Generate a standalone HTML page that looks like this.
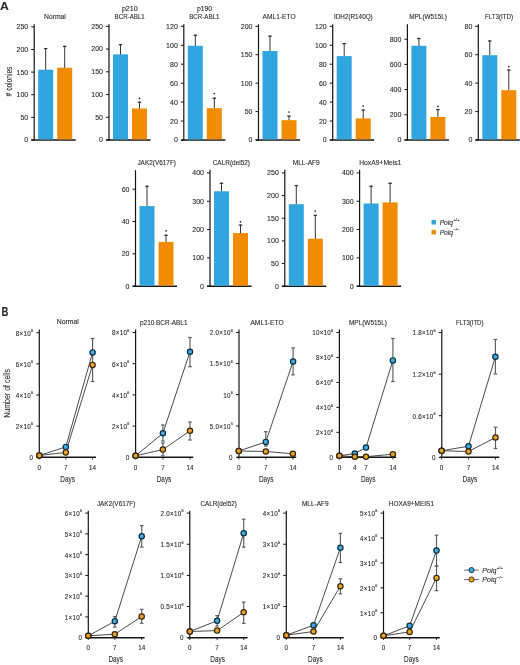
<!DOCTYPE html>
<html><head><meta charset="utf-8"><title>Figure</title>
<style>
html,body{margin:0;padding:0;background:#fff;}
body{width:520px;height:665px;overflow:hidden;}
svg{display:block;font-family:"Liberation Sans",sans-serif;will-change:transform;}
text{stroke:#2b2b2b;stroke-width:0.1px;}
</style></head>
<body>
<svg width="520" height="665" viewBox="0 0 520 665" fill="#2b2b2b">
<rect width="520" height="665" fill="#ffffff"/>
<text x="44" y="18.54" font-size="6.8" textLength="21.8" lengthAdjust="spacingAndGlyphs">Normal</text>
<line x1="34.2" y1="24.3" x2="34.2" y2="140.6" stroke="#161616" stroke-width="1.2"/>
<line x1="31.4" y1="140" x2="75.7" y2="140" stroke="#161616" stroke-width="1.45"/>
<line x1="31.2" y1="140" x2="34.2" y2="140" stroke="#161616" stroke-width="1"/>
<text x="28.2" y="142.45" font-size="7" text-anchor="end">0</text>
<line x1="31.2" y1="117.38" x2="34.2" y2="117.38" stroke="#161616" stroke-width="1"/>
<text x="28.2" y="119.83" font-size="7" text-anchor="end">50</text>
<line x1="31.2" y1="94.76" x2="34.2" y2="94.76" stroke="#161616" stroke-width="1"/>
<text x="28.2" y="97.21" font-size="7" text-anchor="end">100</text>
<line x1="31.2" y1="72.14" x2="34.2" y2="72.14" stroke="#161616" stroke-width="1"/>
<text x="28.2" y="74.59" font-size="7" text-anchor="end">150</text>
<line x1="31.2" y1="49.52" x2="34.2" y2="49.52" stroke="#161616" stroke-width="1"/>
<text x="28.2" y="51.97" font-size="7" text-anchor="end">200</text>
<line x1="31.2" y1="26.9" x2="34.2" y2="26.9" stroke="#161616" stroke-width="1"/>
<text x="28.2" y="29.35" font-size="7" text-anchor="end">250</text>
<line x1="45.7" y1="70.2" x2="45.7" y2="48" stroke="#363636" stroke-width="1"/>
<line x1="44" y1="48.6" x2="47.4" y2="48.6" stroke="#363636" stroke-width="1.3"/>
<line x1="64.7" y1="68.2" x2="64.7" y2="45.8" stroke="#363636" stroke-width="1"/>
<line x1="63" y1="46.4" x2="66.4" y2="46.4" stroke="#363636" stroke-width="1.3"/>
<rect x="38.2" y="69.7" width="15" height="69.7" fill="#31A5DF"/>
<rect x="57.2" y="67.7" width="15" height="71.7" fill="#F18C00"/>
<text x="121.9" y="10.74" font-size="6.8" textLength="15.7" lengthAdjust="spacingAndGlyphs">p210</text>
<text x="114.6" y="18.54" font-size="6.8" textLength="30.2" lengthAdjust="spacingAndGlyphs">BCR-ABL1</text>
<line x1="109" y1="24.3" x2="109" y2="140.6" stroke="#161616" stroke-width="1.2"/>
<line x1="106.2" y1="140" x2="150.5" y2="140" stroke="#161616" stroke-width="1.45"/>
<line x1="106" y1="140" x2="109" y2="140" stroke="#161616" stroke-width="1"/>
<text x="103" y="142.45" font-size="7" text-anchor="end">0</text>
<line x1="106" y1="117.26" x2="109" y2="117.26" stroke="#161616" stroke-width="1"/>
<text x="103" y="119.71" font-size="7" text-anchor="end">50</text>
<line x1="106" y1="94.52" x2="109" y2="94.52" stroke="#161616" stroke-width="1"/>
<text x="103" y="96.97" font-size="7" text-anchor="end">100</text>
<line x1="106" y1="71.78" x2="109" y2="71.78" stroke="#161616" stroke-width="1"/>
<text x="103" y="74.23" font-size="7" text-anchor="end">150</text>
<line x1="106" y1="49.04" x2="109" y2="49.04" stroke="#161616" stroke-width="1"/>
<text x="103" y="51.49" font-size="7" text-anchor="end">200</text>
<line x1="106" y1="26.3" x2="109" y2="26.3" stroke="#161616" stroke-width="1"/>
<text x="103" y="28.75" font-size="7" text-anchor="end">250</text>
<line x1="120.5" y1="54.9" x2="120.5" y2="44.1" stroke="#363636" stroke-width="1"/>
<line x1="118.8" y1="44.7" x2="122.2" y2="44.7" stroke="#363636" stroke-width="1.3"/>
<line x1="139.5" y1="109" x2="139.5" y2="101.7" stroke="#363636" stroke-width="1"/>
<line x1="137.8" y1="102.3" x2="141.2" y2="102.3" stroke="#363636" stroke-width="1.3"/>
<rect x="113" y="54.4" width="15" height="85" fill="#31A5DF"/>
<rect x="132" y="108.5" width="15" height="30.9" fill="#F18C00"/>
<circle cx="139.5" cy="98.4" r="0.85" fill="#222"/>
<text x="196.9" y="10.74" font-size="6.8" textLength="15.2" lengthAdjust="spacingAndGlyphs">p190</text>
<text x="189.2" y="18.54" font-size="6.8" textLength="30.3" lengthAdjust="spacingAndGlyphs">BCR-ABL1</text>
<line x1="183.8" y1="24.3" x2="183.8" y2="140.6" stroke="#161616" stroke-width="1.2"/>
<line x1="181" y1="140" x2="225.3" y2="140" stroke="#161616" stroke-width="1.45"/>
<line x1="180.8" y1="140" x2="183.8" y2="140" stroke="#161616" stroke-width="1"/>
<text x="177.8" y="142.45" font-size="7" text-anchor="end">0</text>
<line x1="180.8" y1="121.05" x2="183.8" y2="121.05" stroke="#161616" stroke-width="1"/>
<text x="177.8" y="123.5" font-size="7" text-anchor="end">20</text>
<line x1="180.8" y1="102.1" x2="183.8" y2="102.1" stroke="#161616" stroke-width="1"/>
<text x="177.8" y="104.55" font-size="7" text-anchor="end">40</text>
<line x1="180.8" y1="83.15" x2="183.8" y2="83.15" stroke="#161616" stroke-width="1"/>
<text x="177.8" y="85.6" font-size="7" text-anchor="end">60</text>
<line x1="180.8" y1="64.2" x2="183.8" y2="64.2" stroke="#161616" stroke-width="1"/>
<text x="177.8" y="66.65" font-size="7" text-anchor="end">80</text>
<line x1="180.8" y1="45.25" x2="183.8" y2="45.25" stroke="#161616" stroke-width="1"/>
<text x="177.8" y="47.7" font-size="7" text-anchor="end">100</text>
<line x1="180.8" y1="26.3" x2="183.8" y2="26.3" stroke="#161616" stroke-width="1"/>
<text x="177.8" y="28.75" font-size="7" text-anchor="end">120</text>
<line x1="195.3" y1="46.3" x2="195.3" y2="34.7" stroke="#363636" stroke-width="1"/>
<line x1="193.6" y1="35.3" x2="197" y2="35.3" stroke="#363636" stroke-width="1.3"/>
<line x1="214.3" y1="108.7" x2="214.3" y2="97.6" stroke="#363636" stroke-width="1"/>
<line x1="212.6" y1="98.2" x2="216" y2="98.2" stroke="#363636" stroke-width="1.3"/>
<rect x="187.8" y="45.8" width="15" height="93.6" fill="#31A5DF"/>
<rect x="206.8" y="108.2" width="15" height="31.2" fill="#F18C00"/>
<circle cx="214.3" cy="93.5" r="0.85" fill="#222"/>
<text x="262.6" y="18.54" font-size="6.8" textLength="33" lengthAdjust="spacingAndGlyphs">AML1-ETO</text>
<line x1="258.5" y1="24.3" x2="258.5" y2="140.6" stroke="#161616" stroke-width="1.2"/>
<line x1="255.7" y1="140" x2="300" y2="140" stroke="#161616" stroke-width="1.45"/>
<line x1="255.5" y1="140" x2="258.5" y2="140" stroke="#161616" stroke-width="1"/>
<text x="252.5" y="142.45" font-size="7" text-anchor="end">0</text>
<line x1="255.5" y1="111.58" x2="258.5" y2="111.58" stroke="#161616" stroke-width="1"/>
<text x="252.5" y="114.03" font-size="7" text-anchor="end">50</text>
<line x1="255.5" y1="83.15" x2="258.5" y2="83.15" stroke="#161616" stroke-width="1"/>
<text x="252.5" y="85.6" font-size="7" text-anchor="end">100</text>
<line x1="255.5" y1="54.72" x2="258.5" y2="54.72" stroke="#161616" stroke-width="1"/>
<text x="252.5" y="57.17" font-size="7" text-anchor="end">150</text>
<line x1="255.5" y1="26.3" x2="258.5" y2="26.3" stroke="#161616" stroke-width="1"/>
<text x="252.5" y="28.75" font-size="7" text-anchor="end">200</text>
<line x1="270" y1="51.5" x2="270" y2="35.6" stroke="#363636" stroke-width="1"/>
<line x1="268.3" y1="36.2" x2="271.7" y2="36.2" stroke="#363636" stroke-width="1.3"/>
<line x1="289" y1="120.7" x2="289" y2="115.6" stroke="#363636" stroke-width="1"/>
<line x1="287.3" y1="116.2" x2="290.7" y2="116.2" stroke="#363636" stroke-width="1.3"/>
<rect x="262.5" y="51" width="15" height="88.4" fill="#31A5DF"/>
<rect x="281.5" y="120.2" width="15" height="19.2" fill="#F18C00"/>
<circle cx="289" cy="112" r="0.85" fill="#222"/>
<text x="334" y="18.54" font-size="6.8" textLength="38.7" lengthAdjust="spacingAndGlyphs">IDH2(R140Q)</text>
<line x1="332.7" y1="24.3" x2="332.7" y2="140.6" stroke="#161616" stroke-width="1.2"/>
<line x1="329.9" y1="140" x2="374.2" y2="140" stroke="#161616" stroke-width="1.45"/>
<line x1="329.7" y1="140" x2="332.7" y2="140" stroke="#161616" stroke-width="1"/>
<text x="326.7" y="142.45" font-size="7" text-anchor="end">0</text>
<line x1="329.7" y1="121.05" x2="332.7" y2="121.05" stroke="#161616" stroke-width="1"/>
<text x="326.7" y="123.5" font-size="7" text-anchor="end">20</text>
<line x1="329.7" y1="102.1" x2="332.7" y2="102.1" stroke="#161616" stroke-width="1"/>
<text x="326.7" y="104.55" font-size="7" text-anchor="end">40</text>
<line x1="329.7" y1="83.15" x2="332.7" y2="83.15" stroke="#161616" stroke-width="1"/>
<text x="326.7" y="85.6" font-size="7" text-anchor="end">60</text>
<line x1="329.7" y1="64.2" x2="332.7" y2="64.2" stroke="#161616" stroke-width="1"/>
<text x="326.7" y="66.65" font-size="7" text-anchor="end">80</text>
<line x1="329.7" y1="45.25" x2="332.7" y2="45.25" stroke="#161616" stroke-width="1"/>
<text x="326.7" y="47.7" font-size="7" text-anchor="end">100</text>
<line x1="329.7" y1="26.3" x2="332.7" y2="26.3" stroke="#161616" stroke-width="1"/>
<text x="326.7" y="28.75" font-size="7" text-anchor="end">120</text>
<line x1="344.2" y1="56.6" x2="344.2" y2="43" stroke="#363636" stroke-width="1"/>
<line x1="342.5" y1="43.6" x2="345.9" y2="43.6" stroke="#363636" stroke-width="1.3"/>
<line x1="363.2" y1="118.9" x2="363.2" y2="109.4" stroke="#363636" stroke-width="1"/>
<line x1="361.5" y1="110" x2="364.9" y2="110" stroke="#363636" stroke-width="1.3"/>
<rect x="336.7" y="56.1" width="15" height="83.3" fill="#31A5DF"/>
<rect x="355.7" y="118.4" width="15" height="21" fill="#F18C00"/>
<circle cx="363.2" cy="105.8" r="0.85" fill="#222"/>
<text x="409.3" y="18.54" font-size="6.8" textLength="37.6" lengthAdjust="spacingAndGlyphs">MPL(W515L)</text>
<line x1="407.4" y1="24.3" x2="407.4" y2="140.6" stroke="#161616" stroke-width="1.2"/>
<line x1="404.6" y1="140" x2="448.9" y2="140" stroke="#161616" stroke-width="1.45"/>
<line x1="404.4" y1="140" x2="407.4" y2="140" stroke="#161616" stroke-width="1"/>
<text x="401.4" y="142.45" font-size="7" text-anchor="end">0</text>
<line x1="404.4" y1="114.8" x2="407.4" y2="114.8" stroke="#161616" stroke-width="1"/>
<text x="401.4" y="117.25" font-size="7" text-anchor="end">200</text>
<line x1="404.4" y1="89.6" x2="407.4" y2="89.6" stroke="#161616" stroke-width="1"/>
<text x="401.4" y="92.05" font-size="7" text-anchor="end">400</text>
<line x1="404.4" y1="64.4" x2="407.4" y2="64.4" stroke="#161616" stroke-width="1"/>
<text x="401.4" y="66.85" font-size="7" text-anchor="end">600</text>
<line x1="404.4" y1="39.2" x2="407.4" y2="39.2" stroke="#161616" stroke-width="1"/>
<text x="401.4" y="41.65" font-size="7" text-anchor="end">800</text>
<line x1="418.9" y1="46.3" x2="418.9" y2="37.9" stroke="#363636" stroke-width="1"/>
<line x1="417.2" y1="38.5" x2="420.6" y2="38.5" stroke="#363636" stroke-width="1.3"/>
<line x1="437.9" y1="117.4" x2="437.9" y2="109" stroke="#363636" stroke-width="1"/>
<line x1="436.2" y1="109.6" x2="439.6" y2="109.6" stroke="#363636" stroke-width="1.3"/>
<rect x="411.4" y="45.8" width="15" height="93.6" fill="#31A5DF"/>
<rect x="430.4" y="116.9" width="15" height="22.5" fill="#F18C00"/>
<circle cx="437.9" cy="106.3" r="0.85" fill="#222"/>
<text x="484.9" y="18.54" font-size="6.8" textLength="28.2" lengthAdjust="spacingAndGlyphs">FLT3(ITD)</text>
<line x1="478.3" y1="24.3" x2="478.3" y2="140.6" stroke="#161616" stroke-width="1.2"/>
<line x1="475.5" y1="140" x2="519.8" y2="140" stroke="#161616" stroke-width="1.45"/>
<line x1="475.3" y1="140" x2="478.3" y2="140" stroke="#161616" stroke-width="1"/>
<text x="472.3" y="142.45" font-size="7" text-anchor="end">0</text>
<line x1="475.3" y1="111.57" x2="478.3" y2="111.57" stroke="#161616" stroke-width="1"/>
<text x="472.3" y="114.02" font-size="7" text-anchor="end">20</text>
<line x1="475.3" y1="83.15" x2="478.3" y2="83.15" stroke="#161616" stroke-width="1"/>
<text x="472.3" y="85.6" font-size="7" text-anchor="end">40</text>
<line x1="475.3" y1="54.72" x2="478.3" y2="54.72" stroke="#161616" stroke-width="1"/>
<text x="472.3" y="57.17" font-size="7" text-anchor="end">60</text>
<line x1="475.3" y1="26.3" x2="478.3" y2="26.3" stroke="#161616" stroke-width="1"/>
<text x="472.3" y="28.75" font-size="7" text-anchor="end">80</text>
<line x1="489.8" y1="55.7" x2="489.8" y2="40.4" stroke="#363636" stroke-width="1"/>
<line x1="488.1" y1="41" x2="491.5" y2="41" stroke="#363636" stroke-width="1.3"/>
<line x1="508.8" y1="90.7" x2="508.8" y2="69.5" stroke="#363636" stroke-width="1"/>
<line x1="507.1" y1="70.1" x2="510.5" y2="70.1" stroke="#363636" stroke-width="1.3"/>
<rect x="482.3" y="55.2" width="15" height="84.2" fill="#31A5DF"/>
<rect x="501.3" y="90.2" width="15" height="49.2" fill="#F18C00"/>
<circle cx="508.8" cy="66.5" r="0.85" fill="#222"/>
<text transform="translate(11.7,81.5) rotate(-90)" font-size="9" text-anchor="middle" textLength="29.8" lengthAdjust="spacingAndGlyphs">#&#160;colonies</text>
<text x="137.4" y="165.44" font-size="6.8" textLength="38.6" lengthAdjust="spacingAndGlyphs">JAK2(V617F)</text>
<line x1="135.5" y1="170.2" x2="135.5" y2="286.8" stroke="#161616" stroke-width="1.2"/>
<line x1="132.7" y1="286.2" x2="177" y2="286.2" stroke="#161616" stroke-width="1.45"/>
<line x1="132.5" y1="286.2" x2="135.5" y2="286.2" stroke="#161616" stroke-width="1"/>
<text x="129.5" y="288.65" font-size="7" text-anchor="end">0</text>
<line x1="132.5" y1="253.87" x2="135.5" y2="253.87" stroke="#161616" stroke-width="1"/>
<text x="129.5" y="256.32" font-size="7" text-anchor="end">20</text>
<line x1="132.5" y1="221.53" x2="135.5" y2="221.53" stroke="#161616" stroke-width="1"/>
<text x="129.5" y="223.98" font-size="7" text-anchor="end">40</text>
<line x1="132.5" y1="189.2" x2="135.5" y2="189.2" stroke="#161616" stroke-width="1"/>
<text x="129.5" y="191.65" font-size="7" text-anchor="end">60</text>
<line x1="147" y1="206.6" x2="147" y2="185.7" stroke="#363636" stroke-width="1"/>
<line x1="145.3" y1="186.3" x2="148.7" y2="186.3" stroke="#363636" stroke-width="1.3"/>
<line x1="166" y1="242.4" x2="166" y2="234.7" stroke="#363636" stroke-width="1"/>
<line x1="164.3" y1="235.3" x2="167.7" y2="235.3" stroke="#363636" stroke-width="1.3"/>
<rect x="139.5" y="206.1" width="15" height="79.5" fill="#31A5DF"/>
<rect x="158.5" y="241.9" width="15" height="43.7" fill="#F18C00"/>
<circle cx="166" cy="230.8" r="0.85" fill="#222"/>
<text x="212.7" y="165.44" font-size="6.8" textLength="37.3" lengthAdjust="spacingAndGlyphs">CALR(del52)</text>
<line x1="210" y1="169.8" x2="210" y2="286.8" stroke="#161616" stroke-width="1.2"/>
<line x1="207.2" y1="286.2" x2="251.5" y2="286.2" stroke="#161616" stroke-width="1.45"/>
<line x1="207" y1="286.2" x2="210" y2="286.2" stroke="#161616" stroke-width="1"/>
<text x="204" y="288.65" font-size="7" text-anchor="end">0</text>
<line x1="207" y1="257.88" x2="210" y2="257.88" stroke="#161616" stroke-width="1"/>
<text x="204" y="260.32" font-size="7" text-anchor="end">100</text>
<line x1="207" y1="229.55" x2="210" y2="229.55" stroke="#161616" stroke-width="1"/>
<text x="204" y="232" font-size="7" text-anchor="end">200</text>
<line x1="207" y1="201.23" x2="210" y2="201.23" stroke="#161616" stroke-width="1"/>
<text x="204" y="203.68" font-size="7" text-anchor="end">300</text>
<line x1="207" y1="172.9" x2="210" y2="172.9" stroke="#161616" stroke-width="1"/>
<text x="204" y="175.35" font-size="7" text-anchor="end">400</text>
<line x1="221.5" y1="191.8" x2="221.5" y2="182.7" stroke="#363636" stroke-width="1"/>
<line x1="219.8" y1="183.3" x2="223.2" y2="183.3" stroke="#363636" stroke-width="1.3"/>
<line x1="240.5" y1="233.6" x2="240.5" y2="224.5" stroke="#363636" stroke-width="1"/>
<line x1="238.8" y1="225.1" x2="242.2" y2="225.1" stroke="#363636" stroke-width="1.3"/>
<rect x="214" y="191.3" width="15" height="94.3" fill="#31A5DF"/>
<rect x="233" y="233.1" width="15" height="52.5" fill="#F18C00"/>
<circle cx="240.5" cy="221.8" r="0.85" fill="#222"/>
<text x="292.7" y="165.44" font-size="6.8" textLength="27.1" lengthAdjust="spacingAndGlyphs">MLL-AF9</text>
<line x1="284.8" y1="169.8" x2="284.8" y2="286.8" stroke="#161616" stroke-width="1.2"/>
<line x1="282" y1="286.2" x2="326.3" y2="286.2" stroke="#161616" stroke-width="1.45"/>
<line x1="281.8" y1="286.2" x2="284.8" y2="286.2" stroke="#161616" stroke-width="1"/>
<text x="278.8" y="288.65" font-size="7" text-anchor="end">0</text>
<line x1="281.8" y1="263.54" x2="284.8" y2="263.54" stroke="#161616" stroke-width="1"/>
<text x="278.8" y="265.99" font-size="7" text-anchor="end">50</text>
<line x1="281.8" y1="240.88" x2="284.8" y2="240.88" stroke="#161616" stroke-width="1"/>
<text x="278.8" y="243.33" font-size="7" text-anchor="end">100</text>
<line x1="281.8" y1="218.22" x2="284.8" y2="218.22" stroke="#161616" stroke-width="1"/>
<text x="278.8" y="220.67" font-size="7" text-anchor="end">150</text>
<line x1="281.8" y1="195.56" x2="284.8" y2="195.56" stroke="#161616" stroke-width="1"/>
<text x="278.8" y="198.01" font-size="7" text-anchor="end">200</text>
<line x1="281.8" y1="172.9" x2="284.8" y2="172.9" stroke="#161616" stroke-width="1"/>
<text x="278.8" y="175.35" font-size="7" text-anchor="end">250</text>
<line x1="296.3" y1="204.7" x2="296.3" y2="185" stroke="#363636" stroke-width="1"/>
<line x1="294.6" y1="185.6" x2="298" y2="185.6" stroke="#363636" stroke-width="1.3"/>
<line x1="315.3" y1="239.2" x2="315.3" y2="214.8" stroke="#363636" stroke-width="1"/>
<line x1="313.6" y1="215.4" x2="317" y2="215.4" stroke="#363636" stroke-width="1.3"/>
<rect x="288.8" y="204.2" width="15" height="81.4" fill="#31A5DF"/>
<rect x="307.8" y="238.7" width="15" height="46.9" fill="#F18C00"/>
<circle cx="315.3" cy="211" r="0.85" fill="#222"/>
<text x="359.2" y="165.44" font-size="6.8" textLength="42.2" lengthAdjust="spacingAndGlyphs">HoxA9+Meis1</text>
<line x1="359.6" y1="169.8" x2="359.6" y2="286.8" stroke="#161616" stroke-width="1.2"/>
<line x1="356.8" y1="286.2" x2="401.1" y2="286.2" stroke="#161616" stroke-width="1.45"/>
<line x1="356.6" y1="286.2" x2="359.6" y2="286.2" stroke="#161616" stroke-width="1"/>
<text x="353.6" y="288.65" font-size="7" text-anchor="end">0</text>
<line x1="356.6" y1="257.88" x2="359.6" y2="257.88" stroke="#161616" stroke-width="1"/>
<text x="353.6" y="260.32" font-size="7" text-anchor="end">100</text>
<line x1="356.6" y1="229.55" x2="359.6" y2="229.55" stroke="#161616" stroke-width="1"/>
<text x="353.6" y="232" font-size="7" text-anchor="end">200</text>
<line x1="356.6" y1="201.23" x2="359.6" y2="201.23" stroke="#161616" stroke-width="1"/>
<text x="353.6" y="203.68" font-size="7" text-anchor="end">300</text>
<line x1="356.6" y1="172.9" x2="359.6" y2="172.9" stroke="#161616" stroke-width="1"/>
<text x="353.6" y="175.35" font-size="7" text-anchor="end">400</text>
<line x1="371.1" y1="204" x2="371.1" y2="185.7" stroke="#363636" stroke-width="1"/>
<line x1="369.4" y1="186.3" x2="372.8" y2="186.3" stroke="#363636" stroke-width="1.3"/>
<line x1="390.1" y1="202.9" x2="390.1" y2="182.7" stroke="#363636" stroke-width="1"/>
<line x1="388.4" y1="183.3" x2="391.8" y2="183.3" stroke="#363636" stroke-width="1.3"/>
<rect x="363.6" y="203.5" width="15" height="82.1" fill="#31A5DF"/>
<rect x="382.6" y="202.4" width="15" height="83.2" fill="#F18C00"/>
<rect x="431.5" y="219.9" width="4.4" height="4.6" fill="#31A5DF"/>
<rect x="431.5" y="229.9" width="4.4" height="4.6" fill="#F18C00"/>
<text x="0" y="9.6" font-size="11.5" textLength="8.8" lengthAdjust="spacingAndGlyphs" font-weight="bold">A</text>
<text x="1.4" y="315.5" font-size="12.4" textLength="6.9" lengthAdjust="spacingAndGlyphs" font-weight="bold">B</text>
<text x="56.7" y="324.44" font-size="6.8" textLength="22.1" lengthAdjust="spacingAndGlyphs">Normal</text>
<line x1="39.3" y1="329.5" x2="39.3" y2="457.9" stroke="#161616" stroke-width="1.2"/>
<line x1="37.3" y1="457.3" x2="96" y2="457.3" stroke="#161616" stroke-width="1.4"/>
<line x1="36.3" y1="457.3" x2="39.3" y2="457.3" stroke="#161616" stroke-width="1"/>
<text x="32.9" y="460" font-size="6.3" text-anchor="end">0</text>
<line x1="36.3" y1="426.15" x2="39.3" y2="426.15" stroke="#161616" stroke-width="1"/>
<text x="33.1" y="429.05" font-size="6.3" text-anchor="end" letter-spacing="0.25">2×10<tspan font-size="3.8" dy="-3.6" letter-spacing="0">6</tspan></text>
<line x1="36.3" y1="395" x2="39.3" y2="395" stroke="#161616" stroke-width="1"/>
<text x="33.1" y="397.9" font-size="6.3" text-anchor="end" letter-spacing="0.25">4×10<tspan font-size="3.8" dy="-3.6" letter-spacing="0">6</tspan></text>
<line x1="36.3" y1="363.85" x2="39.3" y2="363.85" stroke="#161616" stroke-width="1"/>
<text x="33.1" y="366.75" font-size="6.3" text-anchor="end" letter-spacing="0.25">6×10<tspan font-size="3.8" dy="-3.6" letter-spacing="0">6</tspan></text>
<line x1="36.3" y1="332.7" x2="39.3" y2="332.7" stroke="#161616" stroke-width="1"/>
<text x="33.1" y="335.6" font-size="6.3" text-anchor="end" letter-spacing="0.25">8×10<tspan font-size="3.8" dy="-3.6" letter-spacing="0">6</tspan></text>
<line x1="39.3" y1="457.3" x2="39.3" y2="459.5" stroke="#161616" stroke-width="0.9"/>
<text x="39.3" y="469.5" font-size="6.3" text-anchor="middle">0</text>
<line x1="65.8" y1="457.3" x2="65.8" y2="459.5" stroke="#161616" stroke-width="0.9"/>
<text x="65.8" y="469.5" font-size="6.3" text-anchor="middle">7</text>
<line x1="92.6" y1="457.3" x2="92.6" y2="459.5" stroke="#161616" stroke-width="0.9"/>
<text x="92.6" y="469.5" font-size="6.3" text-anchor="middle">14</text>
<text x="60.3" y="481.7" font-size="9.9" textLength="14.6" lengthAdjust="spacingAndGlyphs">Days</text>
<line x1="92.6" y1="338.5" x2="92.6" y2="381.5" stroke="#5c5c66" stroke-width="1.15"/>
<line x1="90.8" y1="338.5" x2="94.4" y2="338.5" stroke="#5c5c66" stroke-width="1.2"/>
<line x1="90.8" y1="381.5" x2="94.4" y2="381.5" stroke="#5c5c66" stroke-width="1.2"/>
<polyline points="39.3,455.5 65.8,446.9 92.6,352.4" fill="none" stroke="#2a2a2a" stroke-width="0.85"/>
<polyline points="39.3,455.5 65.8,452.4 92.6,364.9" fill="none" stroke="#2a2a2a" stroke-width="0.85"/>
<circle cx="39.3" cy="455.5" r="2.65" fill="#42ACDE" stroke="#0c2c44" stroke-width="1.2"/>
<circle cx="65.8" cy="446.9" r="2.65" fill="#42ACDE" stroke="#0c2c44" stroke-width="1.2"/>
<circle cx="92.6" cy="352.4" r="2.65" fill="#42ACDE" stroke="#0c2c44" stroke-width="1.2"/>
<circle cx="39.3" cy="455.5" r="2.65" fill="#E8A22C" stroke="#3a2606" stroke-width="1.2"/>
<circle cx="65.8" cy="452.4" r="2.65" fill="#E8A22C" stroke="#3a2606" stroke-width="1.2"/>
<circle cx="92.6" cy="364.9" r="2.65" fill="#E8A22C" stroke="#3a2606" stroke-width="1.2"/>
<text transform="translate(10.4,393.4) rotate(-90)" font-size="9" text-anchor="middle" textLength="48.7" lengthAdjust="spacingAndGlyphs">Number of cells</text>
<text x="140" y="324.64" font-size="6.8" textLength="47.5" lengthAdjust="spacingAndGlyphs">p210 BCR-ABL1</text>
<line x1="135.6" y1="329.5" x2="135.6" y2="457.9" stroke="#161616" stroke-width="1.2"/>
<line x1="133.6" y1="457.3" x2="193.3" y2="457.3" stroke="#161616" stroke-width="1.4"/>
<line x1="132.6" y1="457.3" x2="135.6" y2="457.3" stroke="#161616" stroke-width="1"/>
<text x="129.2" y="460" font-size="6.3" text-anchor="end">0</text>
<line x1="132.6" y1="426.1" x2="135.6" y2="426.1" stroke="#161616" stroke-width="1"/>
<text x="129.4" y="429" font-size="6.3" text-anchor="end" letter-spacing="0.25">2×10<tspan font-size="3.8" dy="-3.6" letter-spacing="0">6</tspan></text>
<line x1="132.6" y1="394.9" x2="135.6" y2="394.9" stroke="#161616" stroke-width="1"/>
<text x="129.4" y="397.8" font-size="6.3" text-anchor="end" letter-spacing="0.25">4×10<tspan font-size="3.8" dy="-3.6" letter-spacing="0">6</tspan></text>
<line x1="132.6" y1="363.7" x2="135.6" y2="363.7" stroke="#161616" stroke-width="1"/>
<text x="129.4" y="366.6" font-size="6.3" text-anchor="end" letter-spacing="0.25">6×10<tspan font-size="3.8" dy="-3.6" letter-spacing="0">6</tspan></text>
<line x1="132.6" y1="332.5" x2="135.6" y2="332.5" stroke="#161616" stroke-width="1"/>
<text x="129.4" y="335.4" font-size="6.3" text-anchor="end" letter-spacing="0.25">8×10<tspan font-size="3.8" dy="-3.6" letter-spacing="0">6</tspan></text>
<line x1="135.6" y1="457.3" x2="135.6" y2="459.5" stroke="#161616" stroke-width="0.9"/>
<text x="135.6" y="469.5" font-size="6.3" text-anchor="middle">0</text>
<line x1="162.9" y1="457.3" x2="162.9" y2="459.5" stroke="#161616" stroke-width="0.9"/>
<text x="162.9" y="469.5" font-size="6.3" text-anchor="middle">7</text>
<line x1="190" y1="457.3" x2="190" y2="459.5" stroke="#161616" stroke-width="0.9"/>
<text x="190" y="469.5" font-size="6.3" text-anchor="middle">14</text>
<text x="156.7" y="481.7" font-size="9.9" textLength="14.6" lengthAdjust="spacingAndGlyphs">Days</text>
<line x1="190" y1="337.5" x2="190" y2="366.7" stroke="#5c5c66" stroke-width="1.15"/>
<line x1="188.2" y1="337.5" x2="191.8" y2="337.5" stroke="#5c5c66" stroke-width="1.2"/>
<line x1="188.2" y1="366.7" x2="191.8" y2="366.7" stroke="#5c5c66" stroke-width="1.2"/>
<line x1="162.9" y1="425" x2="162.9" y2="441" stroke="#5c5c66" stroke-width="1.15"/>
<line x1="161.1" y1="425" x2="164.7" y2="425" stroke="#5c5c66" stroke-width="1.2"/>
<line x1="161.1" y1="441" x2="164.7" y2="441" stroke="#5c5c66" stroke-width="1.2"/>
<line x1="162.9" y1="443" x2="162.9" y2="456" stroke="#5c5c66" stroke-width="1.15"/>
<line x1="161.1" y1="443" x2="164.7" y2="443" stroke="#5c5c66" stroke-width="1.2"/>
<line x1="161.1" y1="456" x2="164.7" y2="456" stroke="#5c5c66" stroke-width="1.2"/>
<line x1="190" y1="422.1" x2="190" y2="440" stroke="#5c5c66" stroke-width="1.15"/>
<line x1="188.2" y1="422.1" x2="191.8" y2="422.1" stroke="#5c5c66" stroke-width="1.2"/>
<line x1="188.2" y1="440" x2="191.8" y2="440" stroke="#5c5c66" stroke-width="1.2"/>
<polyline points="135.6,455.8 162.9,433.3 190,351.7" fill="none" stroke="#2a2a2a" stroke-width="0.85"/>
<polyline points="135.6,455.8 162.9,449.6 190,430.8" fill="none" stroke="#2a2a2a" stroke-width="0.85"/>
<circle cx="135.6" cy="455.8" r="2.65" fill="#42ACDE" stroke="#0c2c44" stroke-width="1.2"/>
<circle cx="162.9" cy="433.3" r="2.65" fill="#42ACDE" stroke="#0c2c44" stroke-width="1.2"/>
<circle cx="190" cy="351.7" r="2.65" fill="#42ACDE" stroke="#0c2c44" stroke-width="1.2"/>
<circle cx="135.6" cy="455.8" r="2.65" fill="#E8A22C" stroke="#3a2606" stroke-width="1.2"/>
<circle cx="162.9" cy="449.6" r="2.65" fill="#E8A22C" stroke="#3a2606" stroke-width="1.2"/>
<circle cx="190" cy="430.8" r="2.65" fill="#E8A22C" stroke="#3a2606" stroke-width="1.2"/>
<text x="250.4" y="324.64" font-size="6.8" textLength="33.3" lengthAdjust="spacingAndGlyphs">AML1-ETO</text>
<line x1="239" y1="329.5" x2="239" y2="457.9" stroke="#161616" stroke-width="1.2"/>
<line x1="237" y1="457.3" x2="296.2" y2="457.3" stroke="#161616" stroke-width="1.4"/>
<line x1="236" y1="457.3" x2="239" y2="457.3" stroke="#161616" stroke-width="1"/>
<text x="232.6" y="460" font-size="6.3" text-anchor="end">0</text>
<line x1="236" y1="426" x2="239" y2="426" stroke="#161616" stroke-width="1"/>
<text x="232.8" y="428.9" font-size="6.3" text-anchor="end" letter-spacing="0.25">5.0×10<tspan font-size="3.8" dy="-3.6" letter-spacing="0">5</tspan></text>
<line x1="236" y1="394.6" x2="239" y2="394.6" stroke="#161616" stroke-width="1"/>
<text x="232.8" y="397.5" font-size="6.3" text-anchor="end" letter-spacing="0.25">10<tspan font-size="3.8" dy="-3.6" letter-spacing="0">6</tspan></text>
<line x1="236" y1="363.5" x2="239" y2="363.5" stroke="#161616" stroke-width="1"/>
<text x="232.8" y="366.4" font-size="6.3" text-anchor="end" letter-spacing="0.25">1.5×10<tspan font-size="3.8" dy="-3.6" letter-spacing="0">6</tspan></text>
<line x1="236" y1="332.5" x2="239" y2="332.5" stroke="#161616" stroke-width="1"/>
<text x="232.8" y="335.4" font-size="6.3" text-anchor="end" letter-spacing="0.25">2.0×10<tspan font-size="3.8" dy="-3.6" letter-spacing="0">6</tspan></text>
<line x1="238.8" y1="457.3" x2="238.8" y2="459.5" stroke="#161616" stroke-width="0.9"/>
<text x="238.8" y="469.5" font-size="6.3" text-anchor="middle">0</text>
<line x1="265.8" y1="457.3" x2="265.8" y2="459.5" stroke="#161616" stroke-width="0.9"/>
<text x="265.8" y="469.5" font-size="6.3" text-anchor="middle">7</text>
<line x1="292.9" y1="457.3" x2="292.9" y2="459.5" stroke="#161616" stroke-width="0.9"/>
<text x="292.9" y="469.5" font-size="6.3" text-anchor="middle">14</text>
<text x="258.9" y="481.7" font-size="9.9" textLength="14.6" lengthAdjust="spacingAndGlyphs">Days</text>
<line x1="293.1" y1="347.9" x2="293.1" y2="374.8" stroke="#5c5c66" stroke-width="1.15"/>
<line x1="291.3" y1="347.9" x2="294.9" y2="347.9" stroke="#5c5c66" stroke-width="1.2"/>
<line x1="291.3" y1="374.8" x2="294.9" y2="374.8" stroke="#5c5c66" stroke-width="1.2"/>
<line x1="265.8" y1="431.7" x2="265.8" y2="446" stroke="#5c5c66" stroke-width="1.15"/>
<line x1="264" y1="431.7" x2="267.6" y2="431.7" stroke="#5c5c66" stroke-width="1.2"/>
<line x1="264" y1="446" x2="267.6" y2="446" stroke="#5c5c66" stroke-width="1.2"/>
<polyline points="238.8,451 265.8,441.9 293.1,361.5" fill="none" stroke="#2a2a2a" stroke-width="0.85"/>
<polyline points="238.8,451 265.8,451.5 292.9,453.8" fill="none" stroke="#2a2a2a" stroke-width="0.85"/>
<circle cx="238.8" cy="451" r="2.65" fill="#42ACDE" stroke="#0c2c44" stroke-width="1.2"/>
<circle cx="265.8" cy="441.9" r="2.65" fill="#42ACDE" stroke="#0c2c44" stroke-width="1.2"/>
<circle cx="293.1" cy="361.5" r="2.65" fill="#42ACDE" stroke="#0c2c44" stroke-width="1.2"/>
<circle cx="238.8" cy="451" r="2.65" fill="#E8A22C" stroke="#3a2606" stroke-width="1.2"/>
<circle cx="265.8" cy="451.5" r="2.65" fill="#E8A22C" stroke="#3a2606" stroke-width="1.2"/>
<circle cx="292.9" cy="453.8" r="2.65" fill="#E8A22C" stroke="#3a2606" stroke-width="1.2"/>
<text x="349" y="324.64" font-size="6.8" textLength="37.9" lengthAdjust="spacingAndGlyphs">MPL(W515L)</text>
<line x1="339.4" y1="329.5" x2="339.4" y2="457.9" stroke="#161616" stroke-width="1.2"/>
<line x1="337.4" y1="457.3" x2="396.2" y2="457.3" stroke="#161616" stroke-width="1.4"/>
<line x1="336.4" y1="457.3" x2="339.4" y2="457.3" stroke="#161616" stroke-width="1"/>
<text x="333" y="460" font-size="6.3" text-anchor="end">0</text>
<line x1="336.4" y1="432.34" x2="339.4" y2="432.34" stroke="#161616" stroke-width="1"/>
<text x="333.2" y="435.25" font-size="6.3" text-anchor="end" letter-spacing="0.25">2×10<tspan font-size="3.8" dy="-3.6" letter-spacing="0">6</tspan></text>
<line x1="336.4" y1="407.38" x2="339.4" y2="407.38" stroke="#161616" stroke-width="1"/>
<text x="333.2" y="410.28" font-size="6.3" text-anchor="end" letter-spacing="0.25">4×10<tspan font-size="3.8" dy="-3.6" letter-spacing="0">6</tspan></text>
<line x1="336.4" y1="382.42" x2="339.4" y2="382.42" stroke="#161616" stroke-width="1"/>
<text x="333.2" y="385.32" font-size="6.3" text-anchor="end" letter-spacing="0.25">6×10<tspan font-size="3.8" dy="-3.6" letter-spacing="0">6</tspan></text>
<line x1="336.4" y1="357.46" x2="339.4" y2="357.46" stroke="#161616" stroke-width="1"/>
<text x="333.2" y="360.37" font-size="6.3" text-anchor="end" letter-spacing="0.25">8×10<tspan font-size="3.8" dy="-3.6" letter-spacing="0">6</tspan></text>
<line x1="336.4" y1="332.5" x2="339.4" y2="332.5" stroke="#161616" stroke-width="1"/>
<text x="333.2" y="335.4" font-size="6.3" text-anchor="end" letter-spacing="0.25">10×10<tspan font-size="3.8" dy="-3.6" letter-spacing="0">6</tspan></text>
<line x1="339.4" y1="457.3" x2="339.4" y2="459.5" stroke="#161616" stroke-width="0.9"/>
<text x="339.4" y="469.5" font-size="6.3" text-anchor="middle">0</text>
<line x1="354.8" y1="457.3" x2="354.8" y2="459.5" stroke="#161616" stroke-width="0.9"/>
<text x="354.8" y="469.5" font-size="6.3" text-anchor="middle">4</text>
<line x1="366" y1="457.3" x2="366" y2="459.5" stroke="#161616" stroke-width="0.9"/>
<text x="366" y="469.5" font-size="6.3" text-anchor="middle">7</text>
<line x1="392.9" y1="457.3" x2="392.9" y2="459.5" stroke="#161616" stroke-width="0.9"/>
<text x="392.9" y="469.5" font-size="6.3" text-anchor="middle">14</text>
<text x="360.9" y="481.7" font-size="9.9" textLength="14.6" lengthAdjust="spacingAndGlyphs">Days</text>
<line x1="392.9" y1="338.5" x2="392.9" y2="381.5" stroke="#5c5c66" stroke-width="1.15"/>
<line x1="391.1" y1="338.5" x2="394.7" y2="338.5" stroke="#5c5c66" stroke-width="1.2"/>
<line x1="391.1" y1="381.5" x2="394.7" y2="381.5" stroke="#5c5c66" stroke-width="1.2"/>
<polyline points="339.4,455.8 354.8,453.5 366,447.5 392.9,360.4" fill="none" stroke="#2a2a2a" stroke-width="0.85"/>
<polyline points="339.4,455.8 354.8,456.7 366,456.7 392.9,454.2" fill="none" stroke="#2a2a2a" stroke-width="0.85"/>
<circle cx="339.4" cy="455.8" r="2.65" fill="#42ACDE" stroke="#0c2c44" stroke-width="1.2"/>
<circle cx="354.8" cy="453.5" r="2.65" fill="#42ACDE" stroke="#0c2c44" stroke-width="1.2"/>
<circle cx="366" cy="447.5" r="2.65" fill="#42ACDE" stroke="#0c2c44" stroke-width="1.2"/>
<circle cx="392.9" cy="360.4" r="2.65" fill="#42ACDE" stroke="#0c2c44" stroke-width="1.2"/>
<circle cx="339.4" cy="455.8" r="2.65" fill="#E8A22C" stroke="#3a2606" stroke-width="1.2"/>
<circle cx="354.8" cy="456.7" r="2.65" fill="#E8A22C" stroke="#3a2606" stroke-width="1.2"/>
<circle cx="366" cy="456.7" r="2.65" fill="#E8A22C" stroke="#3a2606" stroke-width="1.2"/>
<circle cx="392.9" cy="454.2" r="2.65" fill="#E8A22C" stroke="#3a2606" stroke-width="1.2"/>
<text x="456.1" y="324.54" font-size="6.8" textLength="27.4" lengthAdjust="spacingAndGlyphs">FLT3(ITD)</text>
<line x1="441.8" y1="329.5" x2="441.8" y2="457.9" stroke="#161616" stroke-width="1.2"/>
<line x1="439.8" y1="457.3" x2="499.2" y2="457.3" stroke="#161616" stroke-width="1.4"/>
<line x1="438.8" y1="457.3" x2="441.8" y2="457.3" stroke="#161616" stroke-width="1"/>
<text x="435.4" y="460" font-size="6.3" text-anchor="end">0</text>
<line x1="438.8" y1="415.7" x2="441.8" y2="415.7" stroke="#161616" stroke-width="1"/>
<text x="435.6" y="418.6" font-size="6.3" text-anchor="end" letter-spacing="0.25">0.6×10<tspan font-size="3.8" dy="-3.6" letter-spacing="0">6</tspan></text>
<line x1="438.8" y1="374.2" x2="441.8" y2="374.2" stroke="#161616" stroke-width="1"/>
<text x="435.6" y="377.1" font-size="6.3" text-anchor="end" letter-spacing="0.25">1.2×10<tspan font-size="3.8" dy="-3.6" letter-spacing="0">6</tspan></text>
<line x1="438.8" y1="332.5" x2="441.8" y2="332.5" stroke="#161616" stroke-width="1"/>
<text x="435.6" y="335.4" font-size="6.3" text-anchor="end" letter-spacing="0.25">1.8×10<tspan font-size="3.8" dy="-3.6" letter-spacing="0">6</tspan></text>
<line x1="441.6" y1="457.3" x2="441.6" y2="459.5" stroke="#161616" stroke-width="0.9"/>
<text x="441.6" y="469.5" font-size="6.3" text-anchor="middle">0</text>
<line x1="468.5" y1="457.3" x2="468.5" y2="459.5" stroke="#161616" stroke-width="0.9"/>
<text x="468.5" y="469.5" font-size="6.3" text-anchor="middle">7</text>
<line x1="495.5" y1="457.3" x2="495.5" y2="459.5" stroke="#161616" stroke-width="0.9"/>
<text x="495.5" y="469.5" font-size="6.3" text-anchor="middle">14</text>
<text x="462.5" y="481.7" font-size="9.9" textLength="14.6" lengthAdjust="spacingAndGlyphs">Days</text>
<line x1="495.4" y1="339.5" x2="495.4" y2="373.9" stroke="#5c5c66" stroke-width="1.15"/>
<line x1="493.6" y1="339.5" x2="497.2" y2="339.5" stroke="#5c5c66" stroke-width="1.2"/>
<line x1="493.6" y1="373.9" x2="497.2" y2="373.9" stroke="#5c5c66" stroke-width="1.2"/>
<line x1="495.5" y1="427.2" x2="495.5" y2="448.5" stroke="#5c5c66" stroke-width="1.15"/>
<line x1="493.7" y1="427.2" x2="497.3" y2="427.2" stroke="#5c5c66" stroke-width="1.2"/>
<line x1="493.7" y1="448.5" x2="497.3" y2="448.5" stroke="#5c5c66" stroke-width="1.2"/>
<polyline points="441.6,450.8 468.5,446.2 495.4,356.8" fill="none" stroke="#2a2a2a" stroke-width="0.85"/>
<polyline points="441.6,450.8 468.5,451.5 495.5,437.5" fill="none" stroke="#2a2a2a" stroke-width="0.85"/>
<circle cx="441.6" cy="450.8" r="2.65" fill="#42ACDE" stroke="#0c2c44" stroke-width="1.2"/>
<circle cx="468.5" cy="446.2" r="2.65" fill="#42ACDE" stroke="#0c2c44" stroke-width="1.2"/>
<circle cx="495.4" cy="356.8" r="2.65" fill="#42ACDE" stroke="#0c2c44" stroke-width="1.2"/>
<circle cx="441.6" cy="450.8" r="2.65" fill="#E8A22C" stroke="#3a2606" stroke-width="1.2"/>
<circle cx="468.5" cy="451.5" r="2.65" fill="#E8A22C" stroke="#3a2606" stroke-width="1.2"/>
<circle cx="495.5" cy="437.5" r="2.65" fill="#E8A22C" stroke="#3a2606" stroke-width="1.2"/>
<text x="96.9" y="505.64" font-size="6.8" textLength="38.5" lengthAdjust="spacingAndGlyphs">JAK2(V617F)</text>
<line x1="88.3" y1="510.8" x2="88.3" y2="638.3" stroke="#161616" stroke-width="1.2"/>
<line x1="86.3" y1="637.7" x2="144.6" y2="637.7" stroke="#161616" stroke-width="1.4"/>
<line x1="85.3" y1="637.7" x2="88.3" y2="637.7" stroke="#161616" stroke-width="1"/>
<text x="81.9" y="640.41" font-size="6.3" text-anchor="end">0</text>
<line x1="85.3" y1="616.93" x2="88.3" y2="616.93" stroke="#161616" stroke-width="1"/>
<text x="82.1" y="619.84" font-size="6.3" text-anchor="end" letter-spacing="0.25">1×10<tspan font-size="3.8" dy="-3.6" letter-spacing="0">6</tspan></text>
<line x1="85.3" y1="596.17" x2="88.3" y2="596.17" stroke="#161616" stroke-width="1"/>
<text x="82.1" y="599.07" font-size="6.3" text-anchor="end" letter-spacing="0.25">2×10<tspan font-size="3.8" dy="-3.6" letter-spacing="0">6</tspan></text>
<line x1="85.3" y1="575.4" x2="88.3" y2="575.4" stroke="#161616" stroke-width="1"/>
<text x="82.1" y="578.31" font-size="6.3" text-anchor="end" letter-spacing="0.25">3×10<tspan font-size="3.8" dy="-3.6" letter-spacing="0">6</tspan></text>
<line x1="85.3" y1="554.63" x2="88.3" y2="554.63" stroke="#161616" stroke-width="1"/>
<text x="82.1" y="557.54" font-size="6.3" text-anchor="end" letter-spacing="0.25">4×10<tspan font-size="3.8" dy="-3.6" letter-spacing="0">6</tspan></text>
<line x1="85.3" y1="533.87" x2="88.3" y2="533.87" stroke="#161616" stroke-width="1"/>
<text x="82.1" y="536.77" font-size="6.3" text-anchor="end" letter-spacing="0.25">5×10<tspan font-size="3.8" dy="-3.6" letter-spacing="0">6</tspan></text>
<line x1="85.3" y1="513.1" x2="88.3" y2="513.1" stroke="#161616" stroke-width="1"/>
<text x="82.1" y="516.01" font-size="6.3" text-anchor="end" letter-spacing="0.25">6×10<tspan font-size="3.8" dy="-3.6" letter-spacing="0">6</tspan></text>
<line x1="88.3" y1="637.7" x2="88.3" y2="639.9" stroke="#161616" stroke-width="0.9"/>
<text x="88.3" y="649.91" font-size="6.3" text-anchor="middle">0</text>
<line x1="114.8" y1="637.7" x2="114.8" y2="639.9" stroke="#161616" stroke-width="0.9"/>
<text x="114.8" y="649.91" font-size="6.3" text-anchor="middle">7</text>
<line x1="141.7" y1="637.7" x2="141.7" y2="639.9" stroke="#161616" stroke-width="0.9"/>
<text x="141.7" y="649.91" font-size="6.3" text-anchor="middle">14</text>
<text x="108.4" y="662.1" font-size="9.9" textLength="14.6" lengthAdjust="spacingAndGlyphs">Days</text>
<line x1="141.7" y1="525.6" x2="141.7" y2="547.1" stroke="#5c5c66" stroke-width="1.15"/>
<line x1="139.9" y1="525.6" x2="143.5" y2="525.6" stroke="#5c5c66" stroke-width="1.2"/>
<line x1="139.9" y1="547.1" x2="143.5" y2="547.1" stroke="#5c5c66" stroke-width="1.2"/>
<line x1="114.8" y1="616.5" x2="114.8" y2="627.1" stroke="#5c5c66" stroke-width="1.15"/>
<line x1="113" y1="616.5" x2="116.6" y2="616.5" stroke="#5c5c66" stroke-width="1.2"/>
<line x1="113" y1="627.1" x2="116.6" y2="627.1" stroke="#5c5c66" stroke-width="1.2"/>
<line x1="141.7" y1="609.4" x2="141.7" y2="623.3" stroke="#5c5c66" stroke-width="1.15"/>
<line x1="139.9" y1="609.4" x2="143.5" y2="609.4" stroke="#5c5c66" stroke-width="1.2"/>
<line x1="139.9" y1="623.3" x2="143.5" y2="623.3" stroke="#5c5c66" stroke-width="1.2"/>
<polyline points="88.3,635.8 114.8,621.3 141.7,536.2" fill="none" stroke="#2a2a2a" stroke-width="0.85"/>
<polyline points="88.3,635.8 114.8,634.2 141.7,616.5" fill="none" stroke="#2a2a2a" stroke-width="0.85"/>
<circle cx="88.3" cy="635.8" r="2.65" fill="#42ACDE" stroke="#0c2c44" stroke-width="1.2"/>
<circle cx="114.8" cy="621.3" r="2.65" fill="#42ACDE" stroke="#0c2c44" stroke-width="1.2"/>
<circle cx="141.7" cy="536.2" r="2.65" fill="#42ACDE" stroke="#0c2c44" stroke-width="1.2"/>
<circle cx="88.3" cy="635.8" r="2.65" fill="#E8A22C" stroke="#3a2606" stroke-width="1.2"/>
<circle cx="114.8" cy="634.2" r="2.65" fill="#E8A22C" stroke="#3a2606" stroke-width="1.2"/>
<circle cx="141.7" cy="616.5" r="2.65" fill="#E8A22C" stroke="#3a2606" stroke-width="1.2"/>
<text x="200.4" y="505.64" font-size="6.8" textLength="36.5" lengthAdjust="spacingAndGlyphs">CALR(del52)</text>
<line x1="189.8" y1="510.8" x2="189.8" y2="638.3" stroke="#161616" stroke-width="1.2"/>
<line x1="187.8" y1="637.7" x2="247.5" y2="637.7" stroke="#161616" stroke-width="1.4"/>
<line x1="186.8" y1="637.7" x2="189.8" y2="637.7" stroke="#161616" stroke-width="1"/>
<text x="183.4" y="640.41" font-size="6.3" text-anchor="end">0</text>
<line x1="186.8" y1="606.55" x2="189.8" y2="606.55" stroke="#161616" stroke-width="1"/>
<text x="183.6" y="609.46" font-size="6.3" text-anchor="end" letter-spacing="0.25">0.5×10<tspan font-size="3.8" dy="-3.6" letter-spacing="0">6</tspan></text>
<line x1="186.8" y1="575.4" x2="189.8" y2="575.4" stroke="#161616" stroke-width="1"/>
<text x="183.6" y="578.31" font-size="6.3" text-anchor="end" letter-spacing="0.25">1.0×10<tspan font-size="3.8" dy="-3.6" letter-spacing="0">6</tspan></text>
<line x1="186.8" y1="544.25" x2="189.8" y2="544.25" stroke="#161616" stroke-width="1"/>
<text x="183.6" y="547.16" font-size="6.3" text-anchor="end" letter-spacing="0.25">1.5×10<tspan font-size="3.8" dy="-3.6" letter-spacing="0">6</tspan></text>
<line x1="186.8" y1="513.1" x2="189.8" y2="513.1" stroke="#161616" stroke-width="1"/>
<text x="183.6" y="516.01" font-size="6.3" text-anchor="end" letter-spacing="0.25">2.0×10<tspan font-size="3.8" dy="-3.6" letter-spacing="0">6</tspan></text>
<line x1="189.8" y1="637.7" x2="189.8" y2="639.9" stroke="#161616" stroke-width="0.9"/>
<text x="189.8" y="649.91" font-size="6.3" text-anchor="middle">0</text>
<line x1="217.1" y1="637.7" x2="217.1" y2="639.9" stroke="#161616" stroke-width="0.9"/>
<text x="217.1" y="649.91" font-size="6.3" text-anchor="middle">7</text>
<line x1="243.7" y1="637.7" x2="243.7" y2="639.9" stroke="#161616" stroke-width="0.9"/>
<text x="243.7" y="649.91" font-size="6.3" text-anchor="middle">14</text>
<text x="210.3" y="662.1" font-size="9.9" textLength="14.6" lengthAdjust="spacingAndGlyphs">Days</text>
<line x1="243.7" y1="519.2" x2="243.7" y2="547.1" stroke="#5c5c66" stroke-width="1.15"/>
<line x1="241.9" y1="519.2" x2="245.5" y2="519.2" stroke="#5c5c66" stroke-width="1.2"/>
<line x1="241.9" y1="547.1" x2="245.5" y2="547.1" stroke="#5c5c66" stroke-width="1.2"/>
<line x1="217.1" y1="615.6" x2="217.1" y2="626" stroke="#5c5c66" stroke-width="1.15"/>
<line x1="215.3" y1="615.6" x2="218.9" y2="615.6" stroke="#5c5c66" stroke-width="1.2"/>
<line x1="215.3" y1="626" x2="218.9" y2="626" stroke="#5c5c66" stroke-width="1.2"/>
<line x1="243.7" y1="602.1" x2="243.7" y2="623.3" stroke="#5c5c66" stroke-width="1.15"/>
<line x1="241.9" y1="602.1" x2="245.5" y2="602.1" stroke="#5c5c66" stroke-width="1.2"/>
<line x1="241.9" y1="623.3" x2="245.5" y2="623.3" stroke="#5c5c66" stroke-width="1.2"/>
<polyline points="189.8,631.5 217.1,620.8 243.7,533.3" fill="none" stroke="#2a2a2a" stroke-width="0.85"/>
<polyline points="189.8,631.5 217.1,630.6 243.7,612.3" fill="none" stroke="#2a2a2a" stroke-width="0.85"/>
<circle cx="189.8" cy="631.5" r="2.65" fill="#42ACDE" stroke="#0c2c44" stroke-width="1.2"/>
<circle cx="217.1" cy="620.8" r="2.65" fill="#42ACDE" stroke="#0c2c44" stroke-width="1.2"/>
<circle cx="243.7" cy="533.3" r="2.65" fill="#42ACDE" stroke="#0c2c44" stroke-width="1.2"/>
<circle cx="189.8" cy="631.5" r="2.65" fill="#E8A22C" stroke="#3a2606" stroke-width="1.2"/>
<circle cx="217.1" cy="630.6" r="2.65" fill="#E8A22C" stroke="#3a2606" stroke-width="1.2"/>
<circle cx="243.7" cy="612.3" r="2.65" fill="#E8A22C" stroke="#3a2606" stroke-width="1.2"/>
<text x="301.9" y="505.64" font-size="6.8" textLength="26.8" lengthAdjust="spacingAndGlyphs">MLL-AF9</text>
<line x1="286.3" y1="510.8" x2="286.3" y2="638.3" stroke="#161616" stroke-width="1.2"/>
<line x1="284.3" y1="637.7" x2="343.7" y2="637.7" stroke="#161616" stroke-width="1.4"/>
<line x1="283.3" y1="637.7" x2="286.3" y2="637.7" stroke="#161616" stroke-width="1"/>
<text x="279.9" y="640.41" font-size="6.3" text-anchor="end">0</text>
<line x1="283.3" y1="606.55" x2="286.3" y2="606.55" stroke="#161616" stroke-width="1"/>
<text x="280.1" y="609.46" font-size="6.3" text-anchor="end" letter-spacing="0.25">1×10<tspan font-size="3.8" dy="-3.6" letter-spacing="0">6</tspan></text>
<line x1="283.3" y1="575.4" x2="286.3" y2="575.4" stroke="#161616" stroke-width="1"/>
<text x="280.1" y="578.31" font-size="6.3" text-anchor="end" letter-spacing="0.25">2×10<tspan font-size="3.8" dy="-3.6" letter-spacing="0">6</tspan></text>
<line x1="283.3" y1="544.25" x2="286.3" y2="544.25" stroke="#161616" stroke-width="1"/>
<text x="280.1" y="547.16" font-size="6.3" text-anchor="end" letter-spacing="0.25">3×10<tspan font-size="3.8" dy="-3.6" letter-spacing="0">6</tspan></text>
<line x1="283.3" y1="513.1" x2="286.3" y2="513.1" stroke="#161616" stroke-width="1"/>
<text x="280.1" y="516.01" font-size="6.3" text-anchor="end" letter-spacing="0.25">4×10<tspan font-size="3.8" dy="-3.6" letter-spacing="0">6</tspan></text>
<line x1="286.3" y1="637.7" x2="286.3" y2="639.9" stroke="#161616" stroke-width="0.9"/>
<text x="286.3" y="649.91" font-size="6.3" text-anchor="middle">0</text>
<line x1="313.5" y1="637.7" x2="313.5" y2="639.9" stroke="#161616" stroke-width="0.9"/>
<text x="313.5" y="649.91" font-size="6.3" text-anchor="middle">7</text>
<line x1="340.4" y1="637.7" x2="340.4" y2="639.9" stroke="#161616" stroke-width="0.9"/>
<text x="340.4" y="649.91" font-size="6.3" text-anchor="middle">14</text>
<text x="308" y="662.1" font-size="9.9" textLength="14.6" lengthAdjust="spacingAndGlyphs">Days</text>
<line x1="340.4" y1="533.3" x2="340.4" y2="562.5" stroke="#5c5c66" stroke-width="1.15"/>
<line x1="338.6" y1="533.3" x2="342.2" y2="533.3" stroke="#5c5c66" stroke-width="1.2"/>
<line x1="338.6" y1="562.5" x2="342.2" y2="562.5" stroke="#5c5c66" stroke-width="1.2"/>
<line x1="340.4" y1="578.8" x2="340.4" y2="593.8" stroke="#5c5c66" stroke-width="1.15"/>
<line x1="338.6" y1="578.8" x2="342.2" y2="578.8" stroke="#5c5c66" stroke-width="1.2"/>
<line x1="338.6" y1="593.8" x2="342.2" y2="593.8" stroke="#5c5c66" stroke-width="1.2"/>
<polyline points="286.3,635.2 313.5,625.2 340.4,547.7" fill="none" stroke="#2a2a2a" stroke-width="0.85"/>
<polyline points="286.3,635.2 313.5,631.5 340.4,586.2" fill="none" stroke="#2a2a2a" stroke-width="0.85"/>
<circle cx="286.3" cy="635.2" r="2.65" fill="#42ACDE" stroke="#0c2c44" stroke-width="1.2"/>
<circle cx="313.5" cy="625.2" r="2.65" fill="#42ACDE" stroke="#0c2c44" stroke-width="1.2"/>
<circle cx="340.4" cy="547.7" r="2.65" fill="#42ACDE" stroke="#0c2c44" stroke-width="1.2"/>
<circle cx="286.3" cy="635.2" r="2.65" fill="#E8A22C" stroke="#3a2606" stroke-width="1.2"/>
<circle cx="313.5" cy="631.5" r="2.65" fill="#E8A22C" stroke="#3a2606" stroke-width="1.2"/>
<circle cx="340.4" cy="586.2" r="2.65" fill="#E8A22C" stroke="#3a2606" stroke-width="1.2"/>
<text x="388.8" y="505.64" font-size="6.8" textLength="45.2" lengthAdjust="spacingAndGlyphs">HOXA9+MEIS1</text>
<line x1="383.5" y1="510.8" x2="383.5" y2="638.3" stroke="#161616" stroke-width="1.2"/>
<line x1="381.5" y1="637.7" x2="439.8" y2="637.7" stroke="#161616" stroke-width="1.4"/>
<line x1="380.5" y1="637.7" x2="383.5" y2="637.7" stroke="#161616" stroke-width="1"/>
<text x="377.1" y="640.41" font-size="6.3" text-anchor="end">0</text>
<line x1="380.5" y1="612.78" x2="383.5" y2="612.78" stroke="#161616" stroke-width="1"/>
<text x="377.3" y="615.69" font-size="6.3" text-anchor="end" letter-spacing="0.25">1×10<tspan font-size="3.8" dy="-3.6" letter-spacing="0">6</tspan></text>
<line x1="380.5" y1="587.86" x2="383.5" y2="587.86" stroke="#161616" stroke-width="1"/>
<text x="377.3" y="590.77" font-size="6.3" text-anchor="end" letter-spacing="0.25">2×10<tspan font-size="3.8" dy="-3.6" letter-spacing="0">6</tspan></text>
<line x1="380.5" y1="562.94" x2="383.5" y2="562.94" stroke="#161616" stroke-width="1"/>
<text x="377.3" y="565.85" font-size="6.3" text-anchor="end" letter-spacing="0.25">3×10<tspan font-size="3.8" dy="-3.6" letter-spacing="0">6</tspan></text>
<line x1="380.5" y1="538.02" x2="383.5" y2="538.02" stroke="#161616" stroke-width="1"/>
<text x="377.3" y="540.93" font-size="6.3" text-anchor="end" letter-spacing="0.25">4×10<tspan font-size="3.8" dy="-3.6" letter-spacing="0">6</tspan></text>
<line x1="380.5" y1="513.1" x2="383.5" y2="513.1" stroke="#161616" stroke-width="1"/>
<text x="377.3" y="516.01" font-size="6.3" text-anchor="end" letter-spacing="0.25">5×10<tspan font-size="3.8" dy="-3.6" letter-spacing="0">6</tspan></text>
<line x1="383.5" y1="637.7" x2="383.5" y2="639.9" stroke="#161616" stroke-width="0.9"/>
<text x="383.5" y="649.91" font-size="6.3" text-anchor="middle">0</text>
<line x1="409.6" y1="637.7" x2="409.6" y2="639.9" stroke="#161616" stroke-width="0.9"/>
<text x="409.6" y="649.91" font-size="6.3" text-anchor="middle">7</text>
<line x1="436.5" y1="637.7" x2="436.5" y2="639.9" stroke="#161616" stroke-width="0.9"/>
<text x="436.5" y="649.91" font-size="6.3" text-anchor="middle">14</text>
<text x="404.1" y="662.1" font-size="9.9" textLength="14.6" lengthAdjust="spacingAndGlyphs">Days</text>
<line x1="436.5" y1="535.2" x2="436.5" y2="566" stroke="#5c5c66" stroke-width="1.15"/>
<line x1="434.7" y1="535.2" x2="438.3" y2="535.2" stroke="#5c5c66" stroke-width="1.2"/>
<line x1="434.7" y1="566" x2="438.3" y2="566" stroke="#5c5c66" stroke-width="1.2"/>
<line x1="436.5" y1="566" x2="436.5" y2="590.6" stroke="#5c5c66" stroke-width="1.15"/>
<line x1="434.7" y1="566" x2="438.3" y2="566" stroke="#5c5c66" stroke-width="1.2"/>
<line x1="434.7" y1="590.6" x2="438.3" y2="590.6" stroke="#5c5c66" stroke-width="1.2"/>
<polyline points="383.5,635.8 409.6,625.8 436.5,550.6" fill="none" stroke="#2a2a2a" stroke-width="0.85"/>
<polyline points="383.5,635.8 409.6,631.9 436.5,577.9" fill="none" stroke="#2a2a2a" stroke-width="0.85"/>
<circle cx="383.5" cy="635.8" r="2.65" fill="#42ACDE" stroke="#0c2c44" stroke-width="1.2"/>
<circle cx="409.6" cy="625.8" r="2.65" fill="#42ACDE" stroke="#0c2c44" stroke-width="1.2"/>
<circle cx="436.5" cy="550.6" r="2.65" fill="#42ACDE" stroke="#0c2c44" stroke-width="1.2"/>
<circle cx="383.5" cy="635.8" r="2.65" fill="#E8A22C" stroke="#3a2606" stroke-width="1.2"/>
<circle cx="409.6" cy="631.9" r="2.65" fill="#E8A22C" stroke="#3a2606" stroke-width="1.2"/>
<circle cx="436.5" cy="577.9" r="2.65" fill="#E8A22C" stroke="#3a2606" stroke-width="1.2"/>
<line x1="464.1" y1="570.1" x2="478.7" y2="570.1" stroke="#5a5058" stroke-width="0.9"/>
<line x1="464.1" y1="579.6" x2="478.7" y2="579.6" stroke="#504a60" stroke-width="0.9"/>
<circle cx="471.5" cy="570.1" r="2.6" fill="#42ACDE" stroke="#0c2c44" stroke-width="0.9"/>
<circle cx="471.5" cy="579.5" r="2.6" fill="#E0A428" stroke="#3a2606" stroke-width="0.9"/>
<text x="439.7" y="224.6" font-size="6.8" font-style="italic" textLength="13.3" lengthAdjust="spacingAndGlyphs">Polq</text>
<text x="453.3" y="221.2" font-size="4.4">+/+</text>
<text x="439.7" y="234.6" font-size="6.8" font-style="italic" textLength="13.3" lengthAdjust="spacingAndGlyphs">Polq</text>
<text x="453.3" y="231.2" font-size="4.4">−/−</text>
<text x="482.3" y="572.5" font-size="6.8" font-style="italic" textLength="14.1" lengthAdjust="spacingAndGlyphs">Polq</text>
<text x="496.7" y="569.1" font-size="4.4">+/+</text>
<text x="482.3" y="581.9" font-size="6.8" font-style="italic" textLength="14.1" lengthAdjust="spacingAndGlyphs">Polq</text>
<text x="496.7" y="578.5" font-size="4.4">−/−</text>
</svg>
</body></html>
